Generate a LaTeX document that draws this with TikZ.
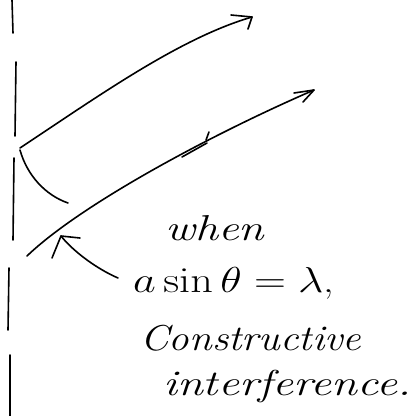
\documentclass[tikz,border=0pt]{standalone}
\usepackage{graphicx}
\begin{document}
\begin{tikzpicture}[x=1pt,y=-1pt,
  ink/.style={line width=1.6pt, line cap=round, line join=round},
  hand/.style={inner sep=0pt, anchor=base west}]
\newcommand\handtext[2]{\scalebox{#1}[1]{\fontsize{36}{40}\selectfont\itshape #2}}
\newcommand\handmath[2]{\scalebox{#1}[1.45]{\fontsize{24}{28}\selectfont #2}}
\useasboundingbox (0,0) rectangle (412,416);
% wall (dashed vertical)
\draw[ink] (12,0) -- (13,33);
\draw[ink] (16,62) -- (15,136);
\draw[ink] (14,158) -- (13,240);
\draw[ink] (9,268) -- (8,330);
\draw[ink] (10,355) -- (10,416);
% rays
\coordinate (s1) at (20,148);
\coordinate (e1) at (252,17);
\coordinate (s2) at (27,256);
\coordinate (e2) at (314,90);
\draw[ink] (s1) .. controls (100,95) and (180,38) .. (e1);
\draw[ink] (231,15) -- (e1) -- (248,29);
\draw[ink] (s2) .. controls (80,205) and (210,135) .. (e2);
\draw[ink] (294,93) -- (e2) -- (303,102);
% small mark on lower ray
\draw[ink] (182,157) -- (207,143);
\draw[ink] (206,140) -- (209,132);
% angle arc
\coordinate (a0) at (20,150);
\coordinate (a1) at (68,203);
\draw[ink] (a0) .. controls (27,175) and (45,195) .. (a1);
% text
\node[hand] (t1) at (165,240) {\handtext{1.28}{when}};
\node[hand] (t2) at (133,292) {\handmath{1.78}{$a\sin\theta=\lambda$,}};
\node[hand] (t3) at (140,350) {\handtext{1.14}{Constructive}};
\node[hand] (t4) at (163,395) {\handtext{1.3}{interference.}};
% pointer
\coordinate (p0) at (118,278);
\coordinate (p1) at (61,236);
\draw[ink] (p0) .. controls (95,268) and (72,250) .. (p1);
\draw[ink] (80,238) -- (p1) -- (52,258);
\end{tikzpicture}
\end{document}
